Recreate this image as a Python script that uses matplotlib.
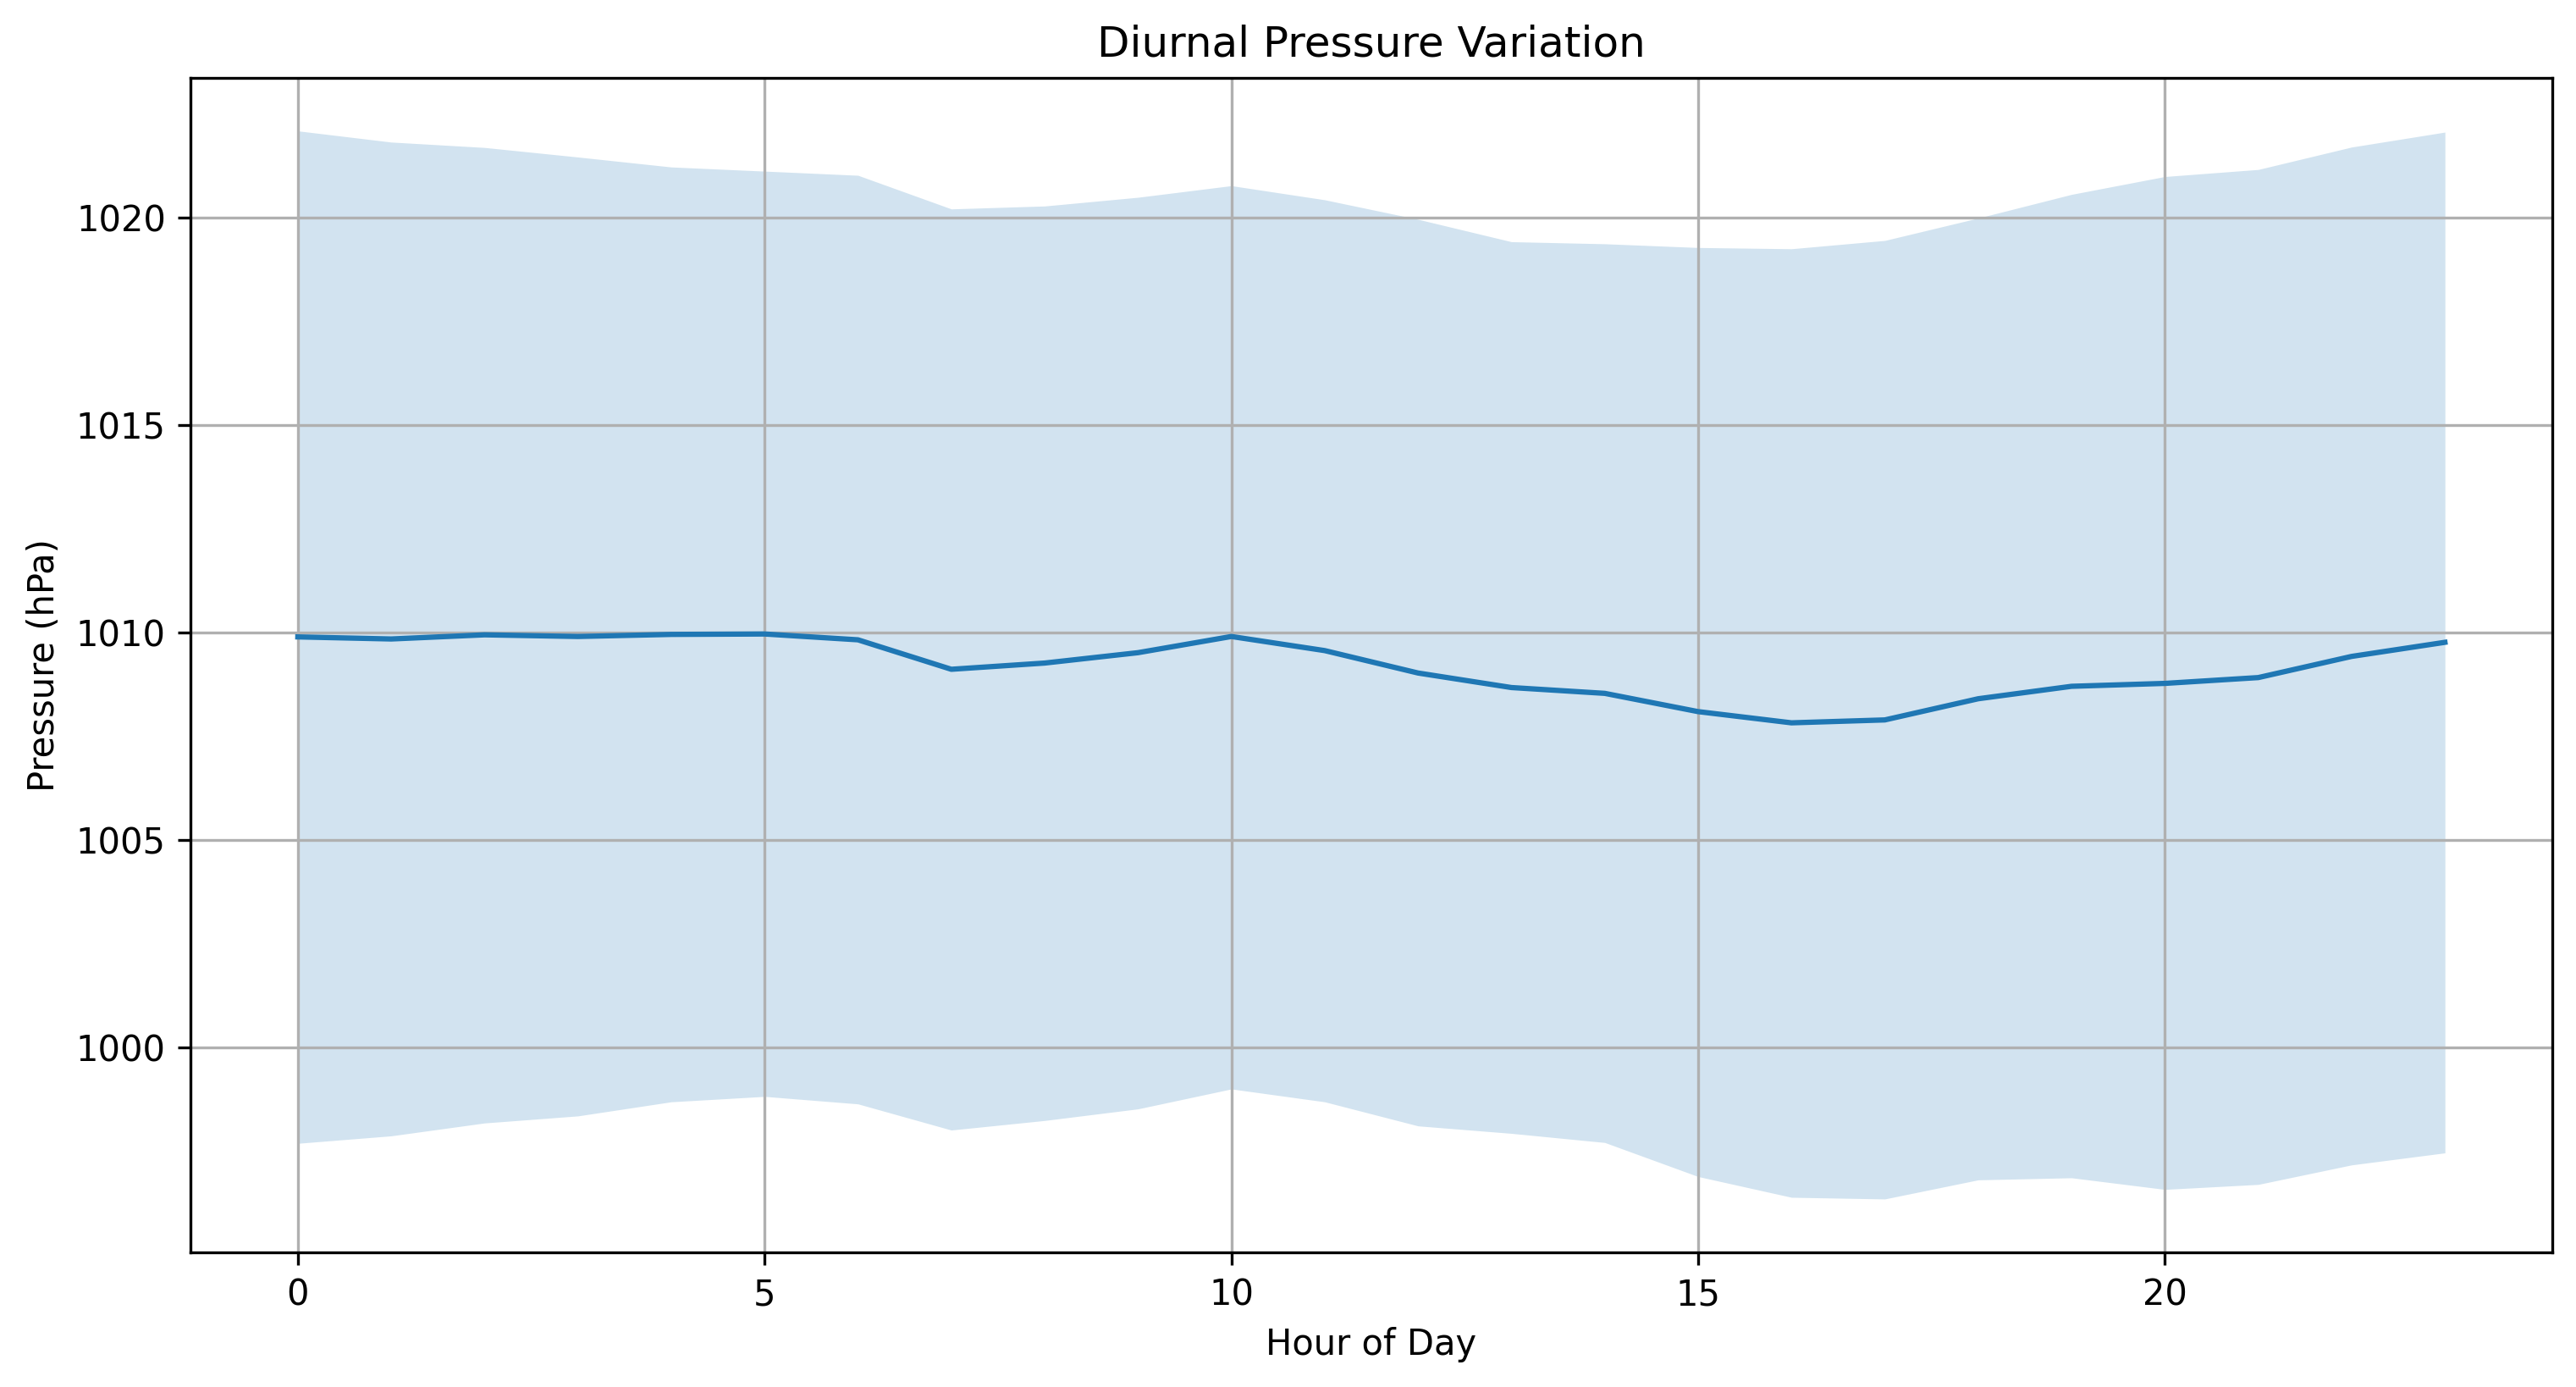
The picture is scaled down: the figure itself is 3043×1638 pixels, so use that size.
import numpy as np
import matplotlib
matplotlib.use("Agg")
import matplotlib.pyplot as plt

# hourly values
hours = list(range(24))
mean_pressure = [1009.89, 1009.84, 1009.94, 1009.90, 1009.95, 1009.96, 1009.82, 1009.11,
                 1009.26, 1009.51, 1009.90, 1009.56, 1009.02, 1008.67, 1008.53, 1008.09,
                 1007.82, 1007.89, 1008.40, 1008.70, 1008.77, 1008.91, 1009.42, 1009.76]
upper_pressure = [1022.08, 1021.81, 1021.68, 1021.45, 1021.21, 1021.11, 1021.01, 1020.20,
                  1020.27, 1020.48, 1020.76, 1020.42, 1019.95, 1019.41, 1019.36, 1019.27,
                  1019.24, 1019.44, 1019.98, 1020.55, 1020.98, 1021.15, 1021.69, 1022.05]
lower_pressure = [997.69, 997.87, 998.18, 998.35, 998.69, 998.82, 998.64, 998.01,
                  998.24, 998.52, 999.00, 998.69, 998.11, 997.93, 997.71, 996.89,
                  996.39, 996.35, 996.81, 996.86, 996.58, 996.70, 997.17, 997.46]

W, H = 3043, 1638
fig = plt.figure(figsize=(W / 300, H / 300), dpi=300)
ax = fig.add_axes([225 / W, 1 - 1479 / H, (3015 - 225) / W, (1479 - 91.5) / H])

ax.plot(hours, mean_pressure, color='C0', linewidth=1.5)
ax.fill_between(hours, lower_pressure, upper_pressure, color='C0', alpha=0.2, linewidth=0)

ax.set_title("Diurnal Pressure Variation")
ax.set_xlabel("Hour of Day")
ax.set_ylabel("Pressure (hPa)")
ax.set_xticks([0, 5, 10, 15, 20])
ax.grid(True)

fig.savefig("out.png", dpi=300)
